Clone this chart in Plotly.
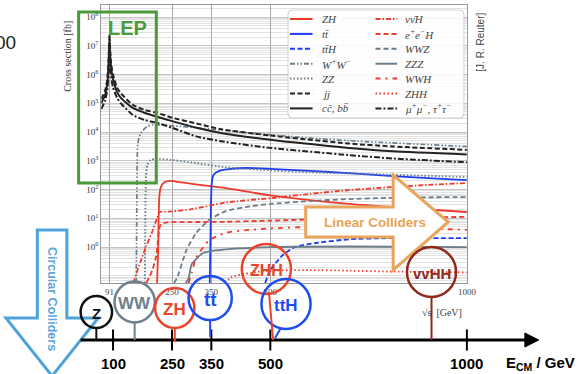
import numpy as np
import plotly.graph_objects as go

# ---------------- data: sqrt(s) [GeV] and log10(cross section / fb) ----------------
E_ff = [70, 80, 85, 88, 90, 91, 92, 94, 97, 100, 110, 120, 150, 180, 212, 250, 312, 375, 500, 700, 812, 1000]
jj_log = [5.15, 5.45, 5.8, 6.3, 7.0, 7.4, 7.05, 6.55, 6.2, 6.0, 5.55, 5.35, 4.95, 4.77, 4.67, 4.5, 4.3, 4.1, 3.88, 3.6, 3.5, 3.38]
ccbb_log = [5.0, 5.3, 5.65, 6.15, 6.9, 7.25, 6.9, 6.4, 6.05, 5.85, 5.4, 5.19, 4.84, 4.67, 4.53, 4.38, 4.15, 3.97, 3.73, 3.45, 3.33, 3.22]
mumu_log = [4.8, 5.1, 5.45, 5.9, 6.6, 6.95, 6.6, 6.1, 5.75, 5.55, 5.2, 5.0, 4.6, 4.42, 4.32, 4.15, 3.85, 3.68, 3.45, 3.2, 3.08, 2.95]

E_ww = [159, 160.5, 161.5, 163, 170, 187, 200, 250, 312, 375, 500, 700, 1000]
ww_log = [-1.25, 1.5, 3.0, 3.6, 3.95, 4.2, 4.25, 4.22, 4.15, 4.07, 3.9, 3.7, 3.5]

E_zz = [181, 182.5, 184, 187, 195, 210, 250, 312, 387, 462, 600, 800, 1000]
zz_log = [-1.25, 1.5, 2.5, 2.85, 3.03, 3.07, 3.03, 2.92, 2.78, 2.7, 2.6, 2.52, 2.44]

E_tt = [346, 348, 349, 351, 355, 370, 400, 440, 500, 600, 700, 812, 900, 1000]
tt_log = [-1.25, 0.5, 1.5, 2.2, 2.5, 2.65, 2.72, 2.75, 2.72, 2.65, 2.57, 2.47, 2.4, 2.33]

E_zh = [212, 215, 216, 218, 222, 230, 245, 260, 300, 387, 500, 700, 850, 1000]
zh_log = [-1.25, 0.0, 1.0, 1.8, 2.1, 2.25, 2.3, 2.28, 2.2, 2.05, 1.8, 1.5, 1.35, 1.22]

E_nnh = [152, 155, 170, 185, 200, 212, 218, 225, 250, 300, 387, 500, 600, 700, 800, 900, 1000]
nnh_log = [-1.25, -1.1, -0.5, 0.05, 0.55, 1.0, 1.22, 1.23, 1.24, 1.32, 1.55, 1.7, 1.85, 1.98, 2.08, 2.16, 2.23]

E_eeh = [185, 200, 210, 214, 217, 222, 240, 300, 387, 500, 700, 1000]
eeh_log = [-1.25, -0.8, -0.3, 0.2, 0.6, 0.8, 0.86, 0.87, 0.88, 0.92, 1.0, 1.05]

E_wwz = [255, 262, 287, 312, 345, 387, 450, 500, 600, 700, 800, 900, 1000]
wwz_log = [-1.25, -1.1, -0.1, 0.5, 0.95, 1.25, 1.42, 1.5, 1.6, 1.67, 1.71, 1.73, 1.74]

E_zzz = [285, 292, 300, 330, 387, 500, 700, 1000]
zzz_log = [-1.25, -1.1, -0.6, -0.2, -0.08, 0.0, 0.02, 0.0]

E_wwh = [292, 300, 312, 330, 345, 387, 450, 500, 600, 700, 800, 1000]
wwh_log = [-1.25, -0.9, -0.35, 0.0, 0.24, 0.5, 0.6, 0.65, 0.7, 0.72, 0.68, 0.6]

E_zhh = [385, 400, 450, 500, 600, 700, 800, 1000]
zhh_log = [-1.25, -1.05, -0.9, -0.82, -0.8, -0.82, -0.85, -0.88]

E_tth = [487, 500, 530, 562, 620, 700, 800, 1000]
tth_log = [-1.25, -0.8, -0.3, 0.0, 0.15, 0.27, 0.31, 0.31]

x_tick_vals = [91, 250, 350, 500, 1000]
y_tick_exps = [0, 1, 2, 3, 4, 5, 6, 7, 8]
bottom_ticks = [100, 250, 350, 500, 1000]

# collider labels and the energy at which each circle sits
circle_labels = ["Z", "WW", "ZH", "tt", "ZHH", "ttH", "vvHH"]
circle_E = [57.5, 155, 257, 347, 490, 540, 910]

# ---------------- styles ----------------
RED, BLUE, GRAY, BLACK = "#ee3a2c", "#1d3df5", "#6a7d8a", "#222222"
SERIF = "Liberation Serif"
SANS = "Liberation Sans"

series = [
    # name, E, log, colour, dash, width, legend col, row
    ("ZH", E_zh, zh_log, RED, "solid", 1.8, 0, 0),
    ("tt\u0304", E_tt, tt_log, BLUE, "solid", 1.8, 0, 1),
    ("tt\u0304H", E_tth, tth_log, BLUE, "5px,2.5px", 1.8, 0, 2),
    ("W<sup>+</sup>W<sup>\u2212</sup>", E_ww, ww_log, GRAY, "5px,2px,1.5px,2px,1.5px,2px", 1.7, 0, 3),
    ("ZZ", E_zz, zz_log, GRAY, "1.5px,2px", 1.9, 0, 4),
    ("jj", E_ff, jj_log, BLACK, "5px,2.5px", 2.0, 0, 5),
    ("cc\u0304, bb\u0304", E_ff, ccbb_log, BLACK, "solid", 2.0, 0, 6),
    ("\u03bd\u03bd\u0304H", E_nnh, nnh_log, RED, "5px,2px,1.5px,2px", 1.8, 1, 0),
    ("e<sup>+</sup>e<sup>\u2212</sup>H", E_eeh, eeh_log, RED, "5px,3px", 1.8, 1, 1),
    ("WWZ", E_wwz, wwz_log, GRAY, "5px,3px", 1.8, 1, 2),
    ("ZZZ", E_zzz, zzz_log, GRAY, "solid", 1.8, 1, 3),
    ("WWH", E_wwh, wwh_log, RED, "5px,5px,2px,5px", 1.8, 1, 4),
    ("ZHH", E_zhh, zhh_log, RED, "1.5px,2.5px", 1.8, 1, 5),
    ("\u03bc<sup>+</sup>\u03bc<sup>\u2212</sup>, \u03c4<sup>+</sup>\u03c4<sup>\u2212</sup>", E_ff, mumu_log, BLACK, "6px,2px,2px,2px", 2.0, 1, 6),
]

fig = go.Figure()
for name, E, lg, col, dash, w, c, r in series:
    fig.add_trace(go.Scatter(x=E, y=10 ** np.array(lg), mode="lines",
                             line=dict(color=col, dash=dash, width=w, shape="spline", smoothing=0.6),
                             xaxis="x", yaxis="y", hoverinfo="skip", showlegend=False))

# bottom energy axis ticks (overlay axes: x2 in GeV, y2 in pixels from top)
fig.add_trace(go.Scatter(x=bottom_ticks, y=[340] * len(bottom_ticks), mode="markers",
                         marker=dict(symbol="line-ns", size=15, line=dict(width=2, color="black")),
                         xaxis="x2", yaxis="y2", hoverinfo="skip", showlegend=False))

W, H = 586, 374
def ex(p):  # pixel x -> x2 (GeV) units
    return 70 + (p - 103) / 0.4

def poly(pts):
    return "M " + " L ".join(f"{ex(x):.2f},{y}" for x, y in pts) + " Z"

shapes = []
ann = []

# legend box (rounded)
lx0, lx1, ly0, ly1, rr = 293, 472, 10, 118, 4
legend_path = (f"M {ex(lx0+rr)},{ly0} L {ex(lx1-rr)},{ly0} Q {ex(lx1)},{ly0} {ex(lx1)},{ly0+rr} "
               f"L {ex(lx1)},{ly1-rr} Q {ex(lx1)},{ly1} {ex(lx1-rr)},{ly1} L {ex(lx0+rr)},{ly1} "
               f"Q {ex(lx0)},{ly1} {ex(lx0)},{ly1-rr} L {ex(lx0)},{ly0+rr} Q {ex(lx0)},{ly0} {ex(lx0+rr)},{ly0} Z")
shapes.append(dict(type="path", path=legend_path, xref="x2", yref="y2", layer="above",
                   fillcolor="rgba(255,255,255,0.85)", line=dict(color="#d0d0d0", width=1)))
col_x = [(295, 318, 326), (382, 404, 410)]
for name, E, lg, col, dash, w, c, r in series:
    yy = 19 + r * 14.9
    sx0, sx1, tx = col_x[c]
    shapes.append(dict(type="line", xref="x2", yref="y2", layer="above", x0=ex(sx0), x1=ex(sx1), y0=yy, y1=yy,
                       line=dict(color=col, dash=dash, width=2)))
    ann.append(dict(x=ex(tx), y=yy, xref="x2", yref="y2", text=f"<i>{name}</i>", showarrow=False,
                    xanchor="left", yanchor="middle", font=dict(family=SERIF, size=11, color="#444")))

# LEP box
shapes.append(dict(type="rect", xref="x2", yref="y2", layer="above", x0=ex(80), x1=ex(159), y0=12, y1=183,
                   line=dict(color="#4b9a3a", width=3)))
ann.append(dict(x=ex(130), y=28, xref="x2", yref="y2", text="<b>LEP</b>", showarrow=False,
                font=dict(family=SANS, size=20, color="#4b9a3a")))

# Linear colliders arrow
shapes.append(dict(type="path", xref="x2", yref="y2", layer="above",
                   path=poly([(311, 207), (400, 207), (400, 175), (456, 222), (400, 270), (400, 237), (311, 237)]),
                   fillcolor="white", line=dict(color="#e9a55c", width=3)))
ann.append(dict(x=ex(381), y=222, xref="x2", yref="y2", text="<b>Linear Colliders</b>", showarrow=False,
                font=dict(family=SANS, size=13.5, color="#e9a456")))

# Circular colliders arrow
shapes.append(dict(type="path", xref="x2", yref="y2", layer="above",
                   path=poly([(38, 230), (68, 230), (68, 318), (100, 318), (53, 376), (6, 318), (38, 318)]),
                   fillcolor="white", line=dict(color="#4fa3dc", width=3)))
ann.append(dict(x=ex(53), y=299, xref="x2", yref="y2", text="<b>Circular Colliders</b>", showarrow=False,
                textangle=90, font=dict(family=SANS, size=12.5, color="#5aa5dc")))

# bottom axis line + arrow head
shapes.append(dict(type="line", xref="x2", yref="y2", layer="above", x0=ex(82), x1=ex(538), y0=340, y1=340,
                   line=dict(color="black", width=3)))
shapes.append(dict(type="path", xref="x2", yref="y2", layer="above",
                   path=poly([(534, 333), (548, 340), (534, 347)]), fillcolor="black", line=dict(color="black", width=1)))
for t in bottom_ticks:
    ann.append(dict(x=t, y=363, xref="x2", yref="y2", text=f"<b>{t}</b>", showarrow=False,
                    font=dict(family=SANS, size=15, color="black")))
ann.append(dict(x=ex(513), y=363, xref="x2", yref="y2", text="<b>E<sub>CM</sub> / GeV</b>", showarrow=False,
                xanchor="left", font=dict(family=SANS, size=15, color="black")))

# circles
circ_style = {
    "Z": (312, 16, "#111111", 15), "WW": (302, 20.5, "#6e808c", 17), "ZH": (308, 20, "#e8452c", 17),
    "tt": (298, 22, "#1f4ef0", 19), "ZHH": (269, 25, "#e8452c", 16), "ttH": (304, 25, "#1f4ef0", 17),
    "vvHH": (272, 25, "#8e2a1d", 15),
}
for lab, Ec in zip(circle_labels, circle_E):
    cy, rad, col, fs = circ_style[lab]
    shapes.append(dict(type="circle", xref="x2", yref="y2", layer="above",
                       x0=Ec - rad / 0.4, x1=Ec + rad / 0.4, y0=cy - rad, y1=cy + rad,
                       line=dict(color=col, width=2.5)))
    ann.append(dict(x=Ec, y=cy + 1, xref="x2", yref="y2", text=f"<b>{lab}</b>", showarrow=False,
                    font=dict(family=SANS, size=fs, color=col)))
# stems
stems = [("Z", 57.5, 328, 57.5, 340), ("WW", 155, 322.5, 155, 340), ("ZH", 257, 328, 257, 342),
         ("tt", 347, 320, 347, 337), ("ZHH", 497, 294, 507, 340), ("ttH", 527, 328, 512, 338),
         ("vvHH", 910, 297, 910, 340)]
for lab, xa, ya, xb, yb in stems:
    shapes.append(dict(type="line", xref="x2", yref="y2", layer="above", x0=xa, x1=xb, y0=ya, y1=yb,
                       line=dict(color=circ_style[lab][2], width=2)))

# other texts
ann.append(dict(x=ex(450), y=312, xref="x2", yref="y2", text="\u221as  [GeV]", showarrow=False,
                font=dict(family=SERIF, size=10, color="#444")))
ann.append(dict(x=ex(68), y=56, xref="x2", yref="y2", text="Cross section [fb]", showarrow=False,
                textangle=-90, font=dict(family=SERIF, size=10, color="#333")))
ann.append(dict(x=ex(488), y=42, xref="x2", yref="y2", text="[J. R. Reuter]", showarrow=False,
                textangle=-90, font=dict(family=SANS, size=10, color="#444")))
ann.append(dict(x=ex(18), y=42, xref="x2", yref="y2", text="00", showarrow=False, xanchor="right",
                font=dict(family=SANS, size=19, color="#222")))

fig.update_layout(
    width=W, height=H, margin=dict(l=0, r=0, t=0, b=0),
    paper_bgcolor="white", plot_bgcolor="rgba(0,0,0,0)", showlegend=False,
    xaxis=dict(domain=[103 / W, 475 / W], range=[70, 1000], anchor="y",
               tickvals=x_tick_vals, ticktext=[str(v) for v in x_tick_vals],
               showgrid=True, gridcolor="#a8a8a8", gridwidth=1, zeroline=False,
               showline=True, linecolor="#999", mirror=True, ticks="",
               tickfont=dict(family=SERIF, size=9, color="#444")),
    yaxis=dict(domain=[1 - 283 / H, 1 - 5 / H], type="log", range=[-1.25, 8.42], anchor="x",
               tickvals=[10.0 ** e for e in y_tick_exps],
               ticktext=[f"10<sup>{e}</sup>" for e in y_tick_exps],
               showgrid=True, gridcolor="#c4c4c4", gridwidth=1, zeroline=False,
               minor=dict(dtick="D1", showgrid=True, gridcolor="#e2e2e2", gridwidth=1, ticks=""),
               showline=True, linecolor="#999", mirror=True, ticks="",
               tickfont=dict(family=SERIF, size=9, color="#333")),
    xaxis2=dict(domain=[0, 1], range=[ex(0), ex(W)], anchor="y2", visible=False),
    yaxis2=dict(domain=[0, 1], range=[H, 0], anchor="x2", visible=False),
    shapes=shapes, annotations=ann,
)

fig.write_html("out.html")
